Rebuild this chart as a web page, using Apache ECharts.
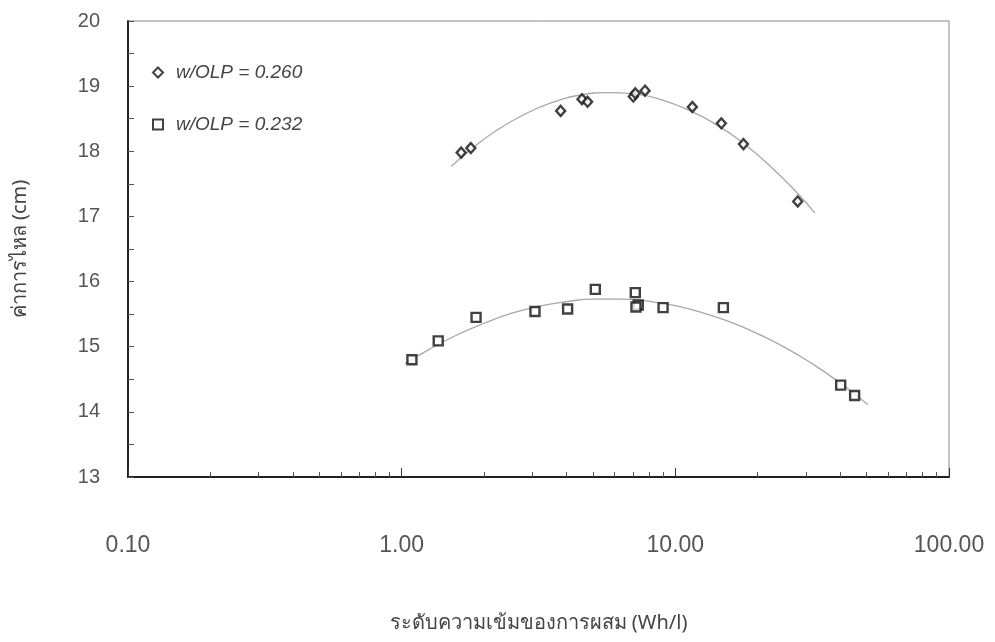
<!DOCTYPE html>
<html>
<head>
<meta charset="utf-8">
<script src="https://cdn.jsdelivr.net/npm/echarts@6/dist/echarts.min.js"></script>
<style>
html,body{margin:0;padding:0;background:#fff;}
#chart{width:995px;height:642px;}
</style>
</head>
<body>
<div id="chart"></div>
<script>
// Data
const seriesNames = ['w/OLP = 0.260', 'w/OLP = 0.232'];
const xTickLabels = ['0.10', '1.00', '10.00', '100.00'];
const yTickLabels = ['13', '14', '15', '16', '17', '18', '19', '20'];

const diamondX = [1.65, 1.79, 3.81, 4.56, 4.78, 7.02, 7.14, 7.75, 11.54, 14.73, 17.74, 28.0];
const diamondY = [17.98, 18.05, 18.62, 18.80, 18.76, 18.84, 18.89, 18.93, 18.68, 18.43, 18.11, 17.23];

const squareX = [1.09, 1.36, 1.87, 3.07, 4.04, 5.10, 7.14, 7.32, 7.18, 9.02, 14.98, 40.2, 45.2];
const squareY = [14.80, 15.09, 15.45, 15.54, 15.58, 15.88, 15.83, 15.64, 15.61, 15.60, 15.60, 14.41, 14.25];

// Trend curves
const curveDX = [1.52, 1.78, 2.24, 2.82, 3.55, 4.47, 5.62, 7.08, 8.91, 11.22, 14.13, 17.78, 22.39, 28.18, 32.36];
const curveDY = [17.77, 18.02, 18.33, 18.57, 18.75, 18.86, 18.90, 18.88, 18.79, 18.63, 18.41, 18.12, 17.76, 17.34, 17.05];

const curveSX = [1.03, 1.26, 1.59, 2.00, 2.51, 3.16, 3.98, 5.01, 6.31, 7.94, 10.0, 12.59, 15.85, 19.95, 25.12, 31.62, 39.81, 50.6];
const curveSY = [14.74, 14.96, 15.18, 15.36, 15.51, 15.62, 15.69, 15.73, 15.73, 15.70, 15.63, 15.52, 15.38, 15.20, 14.99, 14.74, 14.45, 14.11];

const minorTickValues = [0.2,0.3,0.4,0.5,0.6,0.7,0.8,0.9, 2,3,4,5,6,7,8,9, 20,30,40,50,60,70,80,90];

const pairs = (xs, ys) => xs.map((x, i) => [x, ys[i]]);

const FONT = '"Liberation Sans", Arial, "Noto Sans", sans-serif';
const THAI = '"Noto Sans", "DejaVu Sans", "Liberation Sans", sans-serif';

const chart = echarts.init(document.getElementById('chart'), null, {renderer: 'canvas'});
chart.setOption({
  animation: false,
  backgroundColor: '#fff',
  grid: {
    left: 128, right: 46, top: 21, bottom: 165,
    show: true, borderColor: '#888', borderWidth: 1, backgroundColor: 'transparent'
  },
  legend: {
    orient: 'vertical',
    left: 147, top: 58,
    itemGap: 33,
    itemWidth: 10, itemHeight: 10,
    textStyle: {fontFamily: FONT, fontSize: 19, fontStyle: 'italic', color: '#444', padding: [0, 0, 0, 8]},
    data: [
      {name: seriesNames[0], icon: 'diamond'},
      {name: seriesNames[1], icon: 'rect'}
    ]
  },
  xAxis: [{
    type: 'log', logBase: 10, min: 0.1, max: 100,
    name: 'ระดับความเข้มของการผสม (Wh/l)',
    nameLocation: 'middle', nameGap: 136,
    nameTextStyle: {fontFamily: THAI, fontSize: 20, color: '#444'},
    axisLine: {show: true, onZero: false, lineStyle: {color: '#222', width: 2}},
    axisTick: {show: true, inside: true, length: 9, lineStyle: {color: '#333', width: 1}},
    minorTick: {show: false},
    splitLine: {show: false},
    axisLabel: {
      margin: 57, fontFamily: FONT, fontSize: 23, color: '#555',
      formatter: function (v) {
        const idx = Math.round(Math.log10(v)) + 1;
        return xTickLabels[idx] !== undefined ? xTickLabels[idx] : '';
      }
    }
  }, {
    type: 'log', logBase: 10, min: 0.1, max: 100, position: 'bottom',
    axisLine: {show: false},
    axisLabel: {show: false},
    splitLine: {show: false},
    axisTick: {show: true, inside: true, length: 5, customValues: minorTickValues, lineStyle: {color: '#555', width: 1}}
  }],
  yAxis: {
    type: 'value', min: 13, max: 20, interval: 1,
    name: 'ค่าการไหล (cm)',
    nameLocation: 'middle', nameGap: 98, nameRotate: 90,
    nameTextStyle: {fontFamily: THAI, fontSize: 20, color: '#444'},
    axisLine: {show: true, lineStyle: {color: '#222', width: 2}},
    axisTick: {show: true, inside: true, length: 6, lineStyle: {color: '#555'}},
    minorTick: {show: true, splitNumber: 2, length: 6, lineStyle: {color: '#555'}},
    splitLine: {show: false},
    axisLabel: {
      margin: 28, fontFamily: FONT, fontSize: 20, color: '#555',
      formatter: function (v) { return yTickLabels[Math.round(v - 13)]; }
    }
  },
  series: [
    {
      name: 'curve1', type: 'line', smooth: true, showSymbol: false, symbol: 'none',
      lineStyle: {color: '#a8a8a8', width: 1.3}, silent: true, z: 1,
      data: pairs(curveDX, curveDY)
    },
    {
      name: 'curve2', type: 'line', smooth: true, showSymbol: false, symbol: 'none',
      lineStyle: {color: '#a8a8a8', width: 1.3}, silent: true, z: 1,
      data: pairs(curveSX, curveSY)
    },
    {
      name: seriesNames[0], type: 'scatter', symbol: 'diamond', symbolSize: [9, 10],
      itemStyle: {color: '#fff', borderColor: '#111', borderWidth: 2.4}, z: 3,
      data: pairs(diamondX, diamondY)
    },
    {
      name: seriesNames[1], type: 'scatter', symbol: 'rect', symbolSize: 9,
      itemStyle: {color: '#fff', borderColor: '#111', borderWidth: 2.4}, z: 3,
      data: pairs(squareX, squareY)
    }
  ]
});
</script>
</body>
</html>
